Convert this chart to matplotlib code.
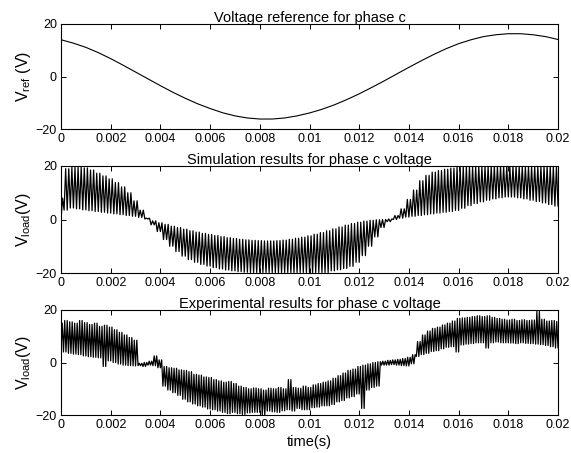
import numpy as np
import matplotlib
matplotlib.use("Agg")
import matplotlib.pyplot as plt

plt.rcParams['font.family'] = ['Liberation Sans', 'DejaVu Sans']
plt.rcParams['mathtext.fontset'] = 'custom'
plt.rcParams['mathtext.rm'] = 'Liberation Sans'
plt.rcParams['mathtext.it'] = 'Liberation Sans:italic'

# ---------------- data ----------------
# reference voltage, sampled every 0.0005 s
ref_t = [i * 0.0005 for i in range(41)]
ref_v = [14, 12.7, 11.1, 9.1, 6.8, 4.3, 1.7, -0.9, -3.5, -6.0, -8.3, -10.4,
         -12.2, -13.8, -15.0, -15.8, -16.2, -16.2, -15.8, -15.0, -13.9, -12.5,
         -10.8, -8.8, -6.6, -4.2, -1.7, 0.9, 3.5, 6.0, 8.4, 10.6, 12.5, 14.0,
         15.2, 15.9, 16.3, 16.3, 15.9, 15.2, 14.1]

# simulated load voltage: upper / lower switching envelopes every 0.00025 s
sim_t = [i * 0.00025 for i in range(81)]
sim_upper = [8, 19, 19.5, 19.5, 19.3, 18.5, 17.3, 16.3, 15.2, 13.8, 12.2, 10, 7,
             3.5, 0.5, -0.5, -1.2, -1.8, -2.5, -3, -3.6, -4.2, -4.7, -5.2, -5.6,
             -6, -6.4, -6.8, -7.1, -7.4, -7.6, -7.8, -7.9, -8, -8, -7.9, -7.7,
             -7.4, -7, -6.6, -6.1, -5.5, -4.9, -4.2, -3.5, -2.8, -2.1, -1.5, -1,
             -0.6, -0.3, -0.1, 0, 0.2, 1.5, 4, 7.5, 11, 14.5, 16.5, 17.7, 18.3,
             18.8, 19.2, 19.5, 19.7, 19.7, 19.8, 19.8, 19.8, 19.8, 19.8, 19.8,
             19.8, 19.8, 19.8, 19.8, 19.8, 19.8, 19.8, 19.8]
sim_lower = [0, 3.5, 4.3, 4, 3.6, 3.3, 3, 2.7, 2.4, 2.1, 1.8, 1.5, 1.2, 0.8, 0.2,
             -2, -4.5, -7.5, -10, -12, -13.7, -15, -16, -16.8, -17.4, -18, -18.5,
             -18.9, -19.2, -19.5, -19.7, -19.8, -19.8, -19.8, -19.8, -19.8, -19.8,
             -19.8, -19.8, -19.8, -19.8, -19.8, -19.8, -19.8, -19.2, -18.8, -18.3,
             -17.5, -16, -13.5, -10, -6.5, -3, -0.8, 0, 0.5, 0.9, 1.2, 1.5, 1.8,
             2.1, 2.4, 2.7, 3, 3.4, 4.2, 5.2, 6, 6.6, 7.2, 7.7, 8.1, 8.4, 8.4, 8.1,
             7.7, 7.2, 6.7, 6.2, 5.6, 5]

# experimental load voltage: upper / lower switching envelopes every 0.0002 s
exp_t = [i * 0.0002 for i in range(101)]
exp_upper = [15, 16, 15.5, 15, 16, 15.2, 14.5, 15, 13.8, 14.2, 13.5, 12.5, 11.5,
             10.5, 9.5, 8.5, -0.3, 0, 0.5, 2.5, 1, -1.5, -2, -2.2, -2.8, -3, -3.5,
             -4.5, -4.8, -5.5, -5.7, -6.5, -7, -7.5, -7.2, -8, -9, -9.5, -10, -9.7,
             -10, -10.5, -9.8, -10, -9.5, -10, -6.5, -9.5, -9.8, -9, -9.5, -8.5,
             -8, -7.5, -7, -6, -5, -4, -3, -2.5, -1.5, -1, -0.5, 0, 0.3, 0.5, 0.8,
             1, 1.2, 1.5, 2, 3, 8, 10.5, 12, 13, 13.5, 14.3, 15, 15.8, 16.8, 17,
             17.2, 17.5, 17.8, 17.5, 17.8, 17.2, 16.8, 16.5, 16.2, 16.5, 16, 16.3,
             16, 16.2, 19.5, 16.5, 15.8, 16, 15.6]
exp_lower = [4.5, 4, 3.5, 3.2, 3, 2.5, 2.2, 2, 1.8, -1.5, 0.6, 0, -0.6, -1, -1.2,
             -1.3, -1.2, -1.5, -1, -1.2, -2, -9, -10.5, -11.5, -12.5, -14, -15,
             -15.8, -16.5, -17, -17.7, -18, -18.5, -19, -19.5, -19, -19.5, -19.8,
             -19.2, -19, -19, -20, -18.5, -18.8, -19, -18.4, -18, -18.5, -17.5,
             -18, -18, -17.2, -17, -16.5, -16.5, -16, -15, -14.5, -13.5, -13, -12,
             -17.5, -10.5, -9.5, -9, -1, -1, -0.8, -1, -1.2, -1.3, -0.5, 2.3, 3,
             3.5, 4.2, 4.5, 5.2, 5.8, 6, 4, 6.7, 7, 7.2, 7.5, 7.5, 5.5, 7.5, 7.8,
             7.5, 7.5, 7.4, 7.2, 7.5, 7.3, 7.2, 7, 6.8, 6.5, 6, 5.5]

titles = ["Voltage reference for phase c",
          "Simulation results for phase c voltage",
          "Experimental results for phase c voltage"]
ylabels = [r"V$_{\mathrm{ref}}$ (V)", r"V$_{\mathrm{load}}$(V)", r"V$_{\mathrm{load}}$(V)"]
xticks = [0, 0.002, 0.004, 0.006, 0.008, 0.01, 0.012, 0.014, 0.016, 0.018, 0.02]
xticklabels = ["0", "0.002", "0.004", "0.006", "0.008", "0.01", "0.012",
               "0.014", "0.016", "0.018", "0.02"]
yticks = [-20, 0, 20]


def switching(t, up, lo, cycles):
    """Alternate between read envelope levels, `cycles` times per sample."""
    t = np.asarray(t)
    dt = t[1] - t[0]
    ts, vs = [], []
    for k in range(len(t)):
        start = t[k] - dt / 2
        step = dt / (2 * cycles)
        for c in range(cycles):
            ts += [start + (2 * c) * step, start + (2 * c + 1) * step]
            vs += [lo[k], up[k]]
    return np.array(ts), np.array(vs)


W, H = 571, 453
fig = plt.figure(figsize=(W / 100, H / 100), dpi=100)

boxes = [(61, 24, 558, 129), (61, 166, 558, 273), (61, 310, 558, 415)]
axes = []
for (l, t, r, b) in boxes:
    ax = fig.add_axes([l / W, 1 - b / H, (r - l) / W, (b - t) / H])
    axes.append(ax)

axes[0].plot(ref_t, ref_v, color='black', lw=0.8)
st, sv = switching(sim_t, sim_upper, sim_lower, 2)
axes[1].plot(st, sv, color='black', lw=0.9)
et, ev = switching(exp_t, exp_upper, exp_lower, 2)
axes[2].plot(et, ev, color='black', lw=0.9)

for i, ax in enumerate(axes):
    ax.set_xlim(0, 0.02)
    ax.set_ylim(-20, 20)
    ax.set_xticks(xticks)
    ax.set_xticklabels(xticklabels)
    ax.set_yticks(yticks)
    ax.tick_params(direction='in', top=True, right=True, length=3.5,
                   width=0.7, labelsize=9, pad=3)
    for s in ax.spines.values():
        s.set_linewidth(0.8)
    ax.set_title(titles[i], fontsize=10.5, pad=1.5)
    ax.set_ylabel(ylabels[i], fontsize=11.5, labelpad=2)

axes[2].set_xlabel("time(s)", fontsize=10.5, labelpad=3)

fig.savefig("out.png", dpi=100)
